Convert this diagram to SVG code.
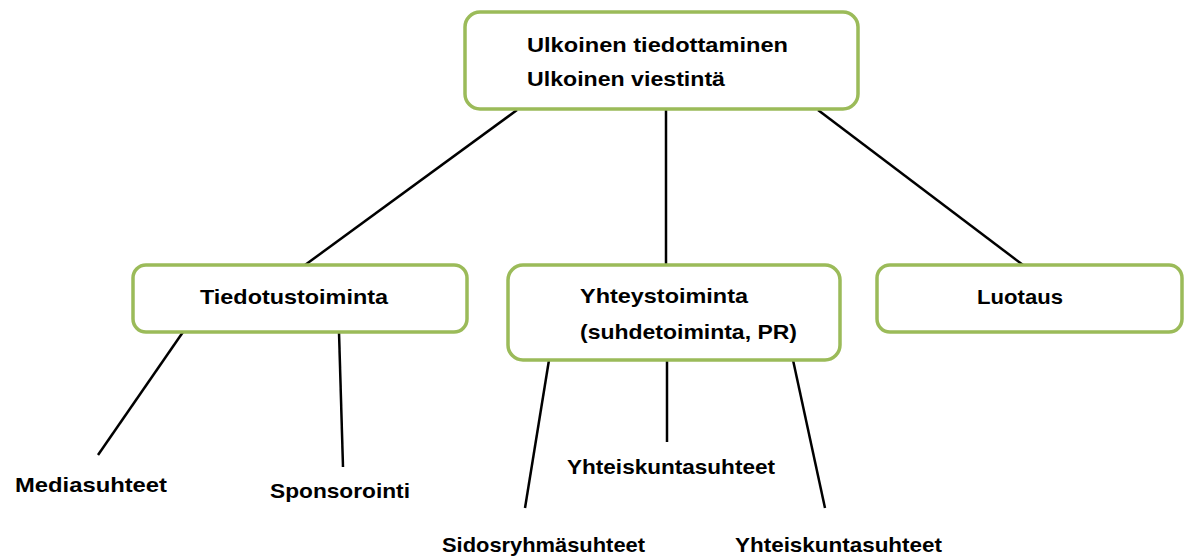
<svg xmlns="http://www.w3.org/2000/svg" width="1186" height="559" viewBox="0 0 1186 559">
<style>
.box{fill:#ffffff;stroke:#9bbb59;stroke-width:3.5}
.ln{stroke:#000000;stroke-width:2.5;fill:none}
text{font-family:"Liberation Sans",Arial,sans-serif;font-weight:bold;font-size:21px;fill:#000000}
</style>
<rect width="1186" height="559" fill="#ffffff"/>
<g id="connectors">
<line class="ln" x1="517" y1="110" x2="305" y2="265"/>
<line class="ln" x1="666" y1="110" x2="666" y2="265"/>
<line class="ln" x1="818" y1="110" x2="1023" y2="265"/>
<line class="ln" x1="183" y1="332" x2="98" y2="455"/>
<line class="ln" x1="339" y1="332" x2="343" y2="467"/>
<line class="ln" x1="549" y1="360" x2="525" y2="508"/>
<line class="ln" x1="667" y1="360" x2="667" y2="442"/>
<line class="ln" x1="793" y1="360" x2="825" y2="508"/>
</g>
<g id="root">
<rect class="box" x="465" y="12" width="393" height="97" rx="15"/>
<text x="527" y="52" textLength="261" lengthAdjust="spacingAndGlyphs">Ulkoinen tiedottaminen</text>
<text x="527" y="86" textLength="198" lengthAdjust="spacingAndGlyphs">Ulkoinen viestintä</text>
</g>
<g id="tiedotustoiminta">
<rect class="box" x="133" y="265" width="334" height="67" rx="13"/>
<text x="200" y="304" textLength="188" lengthAdjust="spacingAndGlyphs">Tiedotustoiminta</text>
</g>
<g id="yhteystoiminta">
<rect class="box" x="508" y="265" width="332" height="95" rx="15"/>
<text x="580" y="303" textLength="168" lengthAdjust="spacingAndGlyphs">Yhteystoiminta</text>
<text x="580" y="339" textLength="217" lengthAdjust="spacingAndGlyphs">(suhdetoiminta, PR)</text>
</g>
<g id="luotaus">
<rect class="box" x="877" y="265" width="305" height="67" rx="13"/>
<text x="977" y="304" textLength="86" lengthAdjust="spacingAndGlyphs">Luotaus</text>
</g>
<g id="mediasuhteet">
<text x="15" y="492" textLength="152" lengthAdjust="spacingAndGlyphs">Mediasuhteet</text>
</g>
<g id="sponsorointi">
<text x="270" y="498" textLength="140" lengthAdjust="spacingAndGlyphs">Sponsorointi</text>
</g>
<g id="yhteiskuntasuhteet1">
<text x="567" y="474" textLength="208" lengthAdjust="spacingAndGlyphs">Yhteiskuntasuhteet</text>
</g>
<g id="sidosryhmasuhteet">
<text x="442" y="552" textLength="203" lengthAdjust="spacingAndGlyphs">Sidosryhmäsuhteet</text>
</g>
<g id="yhteiskuntasuhteet2">
<text x="735" y="552" textLength="207" lengthAdjust="spacingAndGlyphs">Yhteiskuntasuhteet</text>
</g>
</svg>
